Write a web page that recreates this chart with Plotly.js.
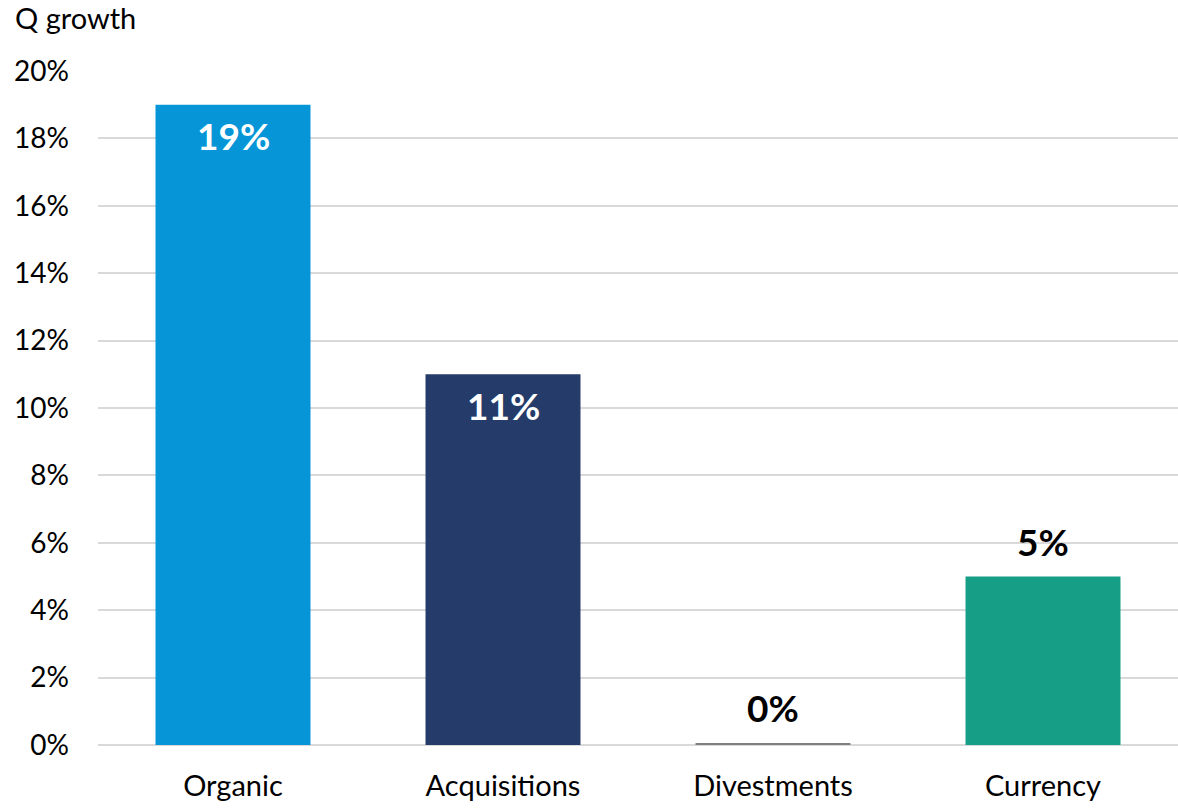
<!DOCTYPE html>
<html><head><meta charset="utf-8">
<script src="https://cdn.plot.ly/plotly-3.0.1.min.js"></script>
<style>html,body{margin:0;padding:0;background:#fff}#chart{width:1178px;height:808px}</style>
</head><body><div id="chart"></div>
<script>
const categories = ["Organic", "Acquisitions", "Divestments", "Currency"];
const values = [19, 11, 0.06, 5];
const labels = ["19%", "11%", "0%", "5%"];
const colors = ["#0696D7", "#253B69", "#7F7F7F", "#169E86"];
const labelInside = [true, true, false, false];
const yTicks = [0, 2, 4, 6, 8, 10, 12, 14, 16, 18, 20];
const yTickText = yTicks.map(v => v + "%");

const FONT = "Lato, 'Liberation Sans', sans-serif";
const trace = {
  type: "bar",
  x: categories,
  y: values,
  marker: {color: colors},
  hoverinfo: "none"
};
const annotations = categories.map((c, i) => ({
  x: c, y: values[i], xref: "x", yref: "y",
  text: "<b>" + labels[i] + "</b>",
  showarrow: false,
  xanchor: "center", yanchor: "middle",
  yshift: labelInside[i] ? -31 : 35,
  font: {family: FONT, size: 37, color: labelInside[i] ? "#FFFFFF" : "#000000"}
}));
const layout = {
  width: 1178, height: 808,
  margin: {l: 98, r: 0, t: 71, b: 63, pad: 0},
  paper_bgcolor: "#fff", plot_bgcolor: "#fff",
  font: {family: FONT, size: 28, color: "#000"},
  bargap: 0.426,
  showlegend: false,
  annotations: annotations,
  title: {text: "Q growth", xref: "container", yref: "container", x: 15/1178, xanchor: "left", y: 1 - 19/808, yanchor: "middle", font: {family: FONT, size: 29, color: "#000"}},
  xaxis: {showgrid: false, showline: false, ticks: "", tickfont: {size: 29}, ticklabelstandoff: 21},
  yaxis: {range: [0, 20], tickvals: yTicks, ticktext: yTickText, showgrid: true, gridcolor: "#D9D9D9", gridwidth: 2,
          zeroline: true, zerolinecolor: "#D9D9D9", zerolinewidth: 2, showline: false, ticks: "", tickfont: {size: 28}, ticklabelstandoff: 28}
};
Plotly.newPlot("chart", [trace], layout, {displayModeBar: false, staticPlot: true});
</script></body></html>
